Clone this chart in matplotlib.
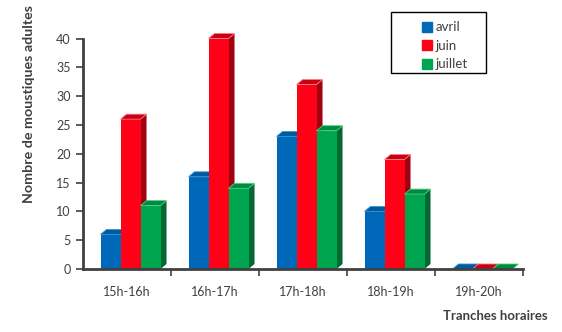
import matplotlib
matplotlib.use("Agg")
import matplotlib.pyplot as plt
from matplotlib.patches import Polygon, Rectangle
from matplotlib.lines import Line2D
import numpy as np

plt.rcParams['font.family'] = ['Lato', 'DejaVu Sans']

categories = ["15h-16h", "16h-17h", "17h-18h", "18h-19h", "19h-20h"]
series_names = ["avril", "juin", "juillet"]
avril = [6, 16, 23, 10, 0]
juin = [26, 40, 32, 19, 0]
juillet = [11, 14, 24, 13, 0]
yticks = [0, 5, 10, 15, 20, 25, 30, 35, 40]

front_colors = ["#0068B8", "#FF0016", "#00A64F"]
side_colors = ["#00457A", "#A00010", "#006830"]
top_colors = ["#005A9E", "#C80012", "#00893F"]
edge_colors = ["#3C95DA", "#FF7A85", "#45D683"]

W, H = 562, 332
fig = plt.figure(figsize=(W / 100, H / 100), dpi=100)
ax = fig.add_axes([83 / W, 1 - 269 / H, 440 / W, (269 - 38.5) / H])
ax.set_xlim(0, 5)
ax.set_ylim(0, 40)

bw = 20 / 88.0
dx = 6 / 88.0
dy = 5 / 5.76
x = np.arange(len(categories)) + 0.5
offs = [-bw - 0.005, 0 - 0.005, bw - 0.005]
offs = [o + 0.045 for o in offs]

data = [avril, juin, juillet]
for ci in range(len(categories)):
    for si, vals in enumerate(data):
        v = vals[ci]
        xc = x[ci] + offs[si]
        z = 3 + ci * 10 + si * 3
        bars = ax.bar(xc, v, width=bw, color=front_colors[si], zorder=z, linewidth=0)
        r = bars[0]
        x0, x1 = r.get_x(), r.get_x() + r.get_width()
        top = r.get_height()
        side = Polygon([(x1, 0), (x1 + dx, dy), (x1 + dx, top + dy), (x1, top)],
                       closed=True, facecolor=side_colors[si], edgecolor='none', zorder=z - 1,
                       clip_on=False)
        tp = Polygon([(x0, top), (x1, top), (x1 + dx, top + dy), (x0 + dx, top + dy)],
                     closed=True, facecolor=top_colors[si], edgecolor=edge_colors[si],
                     linewidth=0.6, zorder=z + 1, clip_on=False)
        ax.add_patch(side)
        ax.add_patch(tp)

ax.set_yticks(yticks)
ax.set_xticks(x)
ax.set_xticklabels(categories)
ax.set_xticks(np.arange(1, 6), minor=True)
ax.tick_params(axis='x', which='major', length=0, pad=12, labelsize=9, colors='#404040')
ax.tick_params(axis='x', which='minor', length=5, width=1.2, color='#404040', direction='out')
ax.tick_params(axis='y', length=5, width=1.2, color='#404040', labelsize=9, labelcolor='#404040', pad=4)
for s in ['top', 'right']:
    ax.spines[s].set_visible(False)
for s in ['left', 'bottom']:
    ax.spines[s].set_color('#404040')
    ax.spines[s].set_linewidth(2)
    ax.spines[s].set_zorder(100)
ax.patch.set_alpha(0)

fig.text(29 / W, 1 - 104 / H, "Nombre de moustiques adultes", rotation=90, fontsize=10.3,
         fontweight='bold', color='#404040', ha='center', va='center')
fig.text(495 / W, 1 - 316 / H, "Tranches horaires", fontsize=9.5, fontweight='bold',
         color='#404040', ha='center', va='center')

# legend
fig.patches.append(Rectangle((391 / W, 1 - 73 / H), 95 / W, 61 / H, transform=fig.transFigure,
                             facecolor='white', edgecolor='black', linewidth=1, figure=fig, zorder=5))
handles = [Line2D([], [], marker='s', linestyle='none', markersize=6.5, markerfacecolor=c,
                  markeredgecolor=c) for c in front_colors]
leg = fig.legend(handles, series_names, loc='upper left', bbox_to_anchor=(412 / W, 1 - 12 / H),
                 frameon=False, fontsize=9.5, handlelength=0.8, handletextpad=0.3,
                 labelspacing=0.5, borderpad=0.2)
for t in leg.get_texts():
    t.set_color('#404040')
leg.set_zorder(6)

fig.savefig("out.png", dpi=100)
